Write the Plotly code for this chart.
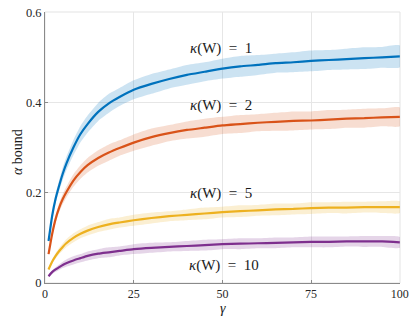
import plotly.graph_objects as go

gamma = [1, 2, 3, 4, 5, 6, 8, 10, 12, 15, 18, 21, 25, 30, 35, 40, 45, 50, 55, 60, 65, 70, 75, 80, 85, 90, 95, 100]

blue = [.093, .148, .187, .216, .242, .264, .300, .330, .352, .379, .398, .412, .428, .441, .452, .461, .468, .475, .480, .483, .487, .489, .492, .494, .496, .498, .500, .502]
red = [.064, .108, .142, .167, .186, .201, .227, .246, .261, .277, .289, .299, .311, .323, .332, .339, .344, .349, .352, .355, .357, .359, .360, .362, .364, .365, .367, .368]
yellow = [.030, .047, .060, .071, .080, .088, .100, .109, .116, .124, .130, .134, .139, .144, .148, .151, .154, .157, .159, .161, .163, .164, .166, .167, .167, .168, .168, .168]
purple = [.015, .024, .030, .035, .040, .044, .050, .055, .060, .065, .068, .071, .075, .078, .080, .082, .084, .086, .087, .088, .089, .090, .091, .091, .092, .092, .092, .090]

# half-width of the shaded bands
blue_sd = [.004, .007, .010, .012, .014, .015, .017, .018, .019, .020, .021, .020, .021, .022, .021, .022, .021, .022, .023, .022, .021, .022, .023, .022, .023, .024, .023, .024]
red_sd = [.003, .006, .008, .010, .011, .012, .014, .015, .016, .017, .018, .017, .018, .019, .018, .019, .020, .019, .020, .019, .020, .021, .020, .021, .020, .021, .020, .021]
yellow_sd = [.002, .004, .006, .007, .008, .009, .010, .010, .011, .011, .012, .011, .012, .012, .011, .012, .013, .012, .013, .012, .013, .012, .013, .012, .013, .012, .013, .013]
purple_sd = [.002, .004, .005, .006, .007, .008, .009, .009, .010, .010, .011, .010, .011, .011, .010, .011, .012, .011, .012, .011, .012, .011, .012, .012, .011, .012, .012, .012]

labels = ["κ(W) = 1", "κ(W) = 2", "κ(W) = 5", "κ(W) = 10"]
label_x = [49.5, 49.5, 49.5, 50.5]
label_y = [0.520, 0.393, 0.198, 0.039]

x_ticks = [0, 25, 50, 75, 100]
y_ticks = [0, 0.2, 0.4, 0.6]
y_ticktext = ["0", "0.2", "0.4", "0.6"]

series = [blue, red, yellow, purple]
spreads = [blue_sd, red_sd, yellow_sd, purple_sd]
colors = ["#0072BD", "#D95319", "#EDB120", "#7E2F8E"]
bands = ["rgba(0,114,189,0.2)", "rgba(217,83,25,0.2)", "rgba(237,177,32,0.2)", "rgba(126,47,142,0.2)"]

FONT = "Liberation Serif"

fig = go.Figure()
for vals, sd, col, bcol in zip(series, spreads, colors, bands):
    upper = [v + s for v, s in zip(vals, sd)]
    lower = [v - s for v, s in zip(vals, sd)]
    fig.add_trace(go.Scatter(
        x=gamma + gamma[::-1], y=upper + lower[::-1],
        fill="toself", fillcolor=bcol, line=dict(width=0, shape="spline", smoothing=0.5),
        mode="lines", hoverinfo="skip", showlegend=False))
for vals, col in zip(series, colors):
    fig.add_trace(go.Scatter(x=gamma, y=vals, mode="lines",
                             line=dict(color=col, width=2.2, shape="spline", smoothing=0.5),
                             showlegend=False))

for t, lx, ly in zip(labels, label_x, label_y):
    k, rest = t.split("(", 1)
    rest = rest.replace(" = ", "\u2002=\u2002")
    fig.add_annotation(x=lx, y=ly, xref="x", yref="y",
                       text="<i>" + k + "</i>(" + rest,
                       showarrow=False, font=dict(family=FONT, size=15, color="#1a1a1a"))

fig.add_annotation(x=0.5, y=0, xref="paper", yref="paper", yshift=-35,
                   text="<i>γ</i>", showarrow=False,
                   font=dict(family=FONT, size=14, color="#1a1a1a"))
fig.add_annotation(x=0, y=0.5, xref="paper", yref="paper", xshift=-37, yshift=-5,
                   text="<i>α</i> bound", textangle=-90, showarrow=False,
                   font=dict(family=FONT, size=14, color="#1a1a1a"))

# light frame on top/right
fig.add_shape(type="rect", xref="paper", yref="paper", x0=0, y0=0, x1=1, y1=1,
              line=dict(color="#e3e3e3", width=1), layer="below")

axis_common = dict(showgrid=True, gridcolor="#e6e6e6", gridwidth=1,
                   showline=True, linecolor="#8a8a8a", linewidth=1,
                   zeroline=False,
                   tickcolor="#8a8a8a", ticklen=3, ticks="inside",
                   ticklabeloverflow="allow")

fig.update_xaxes(range=[0, 100.05], tickvals=x_ticks,
                 tickfont=dict(family=FONT, size=12, color="#262626"), **axis_common)
fig.update_yaxes(range=[0, 0.6003], tickvals=y_ticks, ticktext=y_ticktext,
                 tickfont=dict(family=FONT, size=12.5, color="#262626"), **axis_common)

fig.update_layout(width=415, height=325, margin=dict(l=45, r=9, t=6, b=42),
                  plot_bgcolor="white", paper_bgcolor="white")

fig.write_html("out.html", config={"displayModeBar": False},
               post_script="document.body.style.margin='0';")
